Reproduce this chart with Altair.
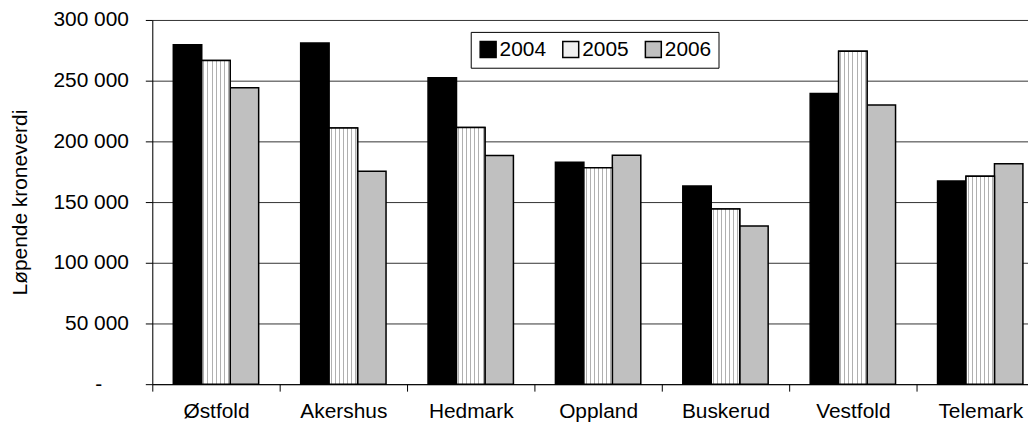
import altair as alt
import pandas as pd

regions = ["Østfold", "Akershus", "Hedmark", "Oppland", "Buskerud", "Vestfold", "Telemark"]
years = ["2004", "2005", "2006"]
v2004 = [279500, 281000, 252500, 182800, 163300, 239400, 167400]
v2005 = [266600, 211000, 211500, 178300, 144300, 274200, 171200]
v2006 = [244200, 175400, 188300, 188600, 130200, 229900, 181500]
y_ticks = [0, 50000, 100000, 150000, 200000, 250000, 300000]
y_title = "Løpende kroneverdi"

rows = []
for i, r in enumerate(regions):
    for yr, vals in zip(years, [v2004, v2005, v2006]):
        rows.append({"region": r, "year": yr, "value": vals[i]})
df = pd.DataFrame(rows)

FONT = "Liberation Sans"

# dotted-looking fill for 2005 (thin vertical stripes)
n_str = 7
period = 1.0 / n_str
stops = [{"offset": 0, "color": "#ffffff"}]
for k in range(n_str):
    a = k * period + period * 0.4
    b = a + period * 0.25
    stops += [
        {"offset": a, "color": "#ffffff"},
        {"offset": a, "color": "#b0b0b0"},
        {"offset": b, "color": "#b0b0b0"},
        {"offset": b, "color": "#ffffff"},
    ]
stops.append({"offset": 1, "color": "#ffffff"})
dots = {"gradient": "linear", "x1": 0, "y1": 0, "x2": 1, "y2": 0, "stops": stops}

x_enc = alt.X(
    "region:N",
    sort=regions,
    scale=alt.Scale(range=[0, 896], paddingInner=0, paddingOuter=0),
    axis=alt.Axis(
        title=None, labelAngle=0, tickBand="extent", ticks=True, tickSize=7,
        tickColor="black", domainColor="black", labelFontSize=21, labelFont=FONT,
        labelColor="black", labelPadding=9, grid=False,
    ),
)
xo_enc = alt.XOffset("year:N", sort=years, scale=alt.Scale(paddingInner=0, paddingOuter=0.738))
y_enc = alt.Y(
    "value:Q",
    scale=alt.Scale(domain=[0, 300000], nice=False),
    axis=alt.Axis(
        values=y_ticks, title=y_title,
        labelExpr="datum.value == 0 ? '-\u00a0\u00a0\u2800' : format(datum.value/1000, 'd') + ' 000'",
        labelFontSize=21, labelFont=FONT, labelColor="black", labelPadding=17,
        tickSize=7, tickColor="black", domainColor="black",
        grid=True, gridColor="#333333", gridWidth=1,
        titleFontSize=21, titleFont=FONT, titleFontWeight="normal", titleColor="black",
        titlePadding=22,
    ),
)

base = alt.Chart(df).encode(x=x_enc, xOffset=xo_enc, y=y_enc)

bars = base.mark_bar(stroke="black", strokeWidth=1.5).encode(
    fill=alt.Fill(
        "year:N",
        scale=alt.Scale(domain=years, range=["#000000", "#f0f0f0", "#c0c0c0"]),
        legend=alt.Legend(
            title=None, orient="none", legendX=320, legendY=12, direction="horizontal",
            fillColor="white", strokeColor="black", padding=7,
            symbolType="square", symbolSize=256, symbolStrokeColor="black",
            symbolStrokeWidth=1.5, symbolOpacity=1,
            labelFontSize=21, labelFont=FONT, labelColor="black", labelOffset=1,
            columnPadding=13,
        ),
    )
)

overlay = base.transform_filter(alt.datum.year == "2005").mark_bar(
    stroke="black", strokeWidth=1.5, fill=dots
)

chart = alt.layer(bars, overlay).properties(
    width=880, height=366,
    autosize=alt.AutoSizeParams(type="none"),
    padding={"left": 145, "top": 11, "right": 0, "bottom": 38},
).configure_view(stroke=None).configure(background="white")

chart.save("out.html", embed_options={"renderer": "svg", "actions": False})
